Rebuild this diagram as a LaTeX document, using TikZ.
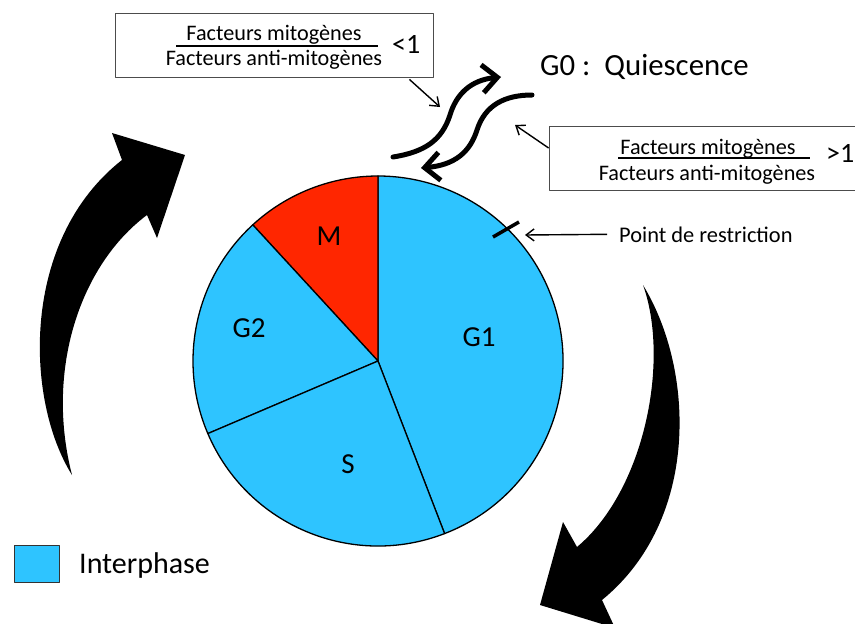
\documentclass[tikz,border=0pt]{standalone}
\usepackage{fontspec}
\setmainfont{Carlito}
\usetikzlibrary{arrows.meta}
\definecolor{phaseblue}{RGB}{46,196,255}
\definecolor{phasered}{RGB}{255,38,0}

% one pie slice: start angle, end angle, fill colour
\newcommand\pieslice[3]{\filldraw[slice, fill=#3] (c) -- ++(-#1:185) arc[start angle=-#1, end angle=-#2, radius=185] -- cycle;}

\begin{document}
\begin{tikzpicture}[x=1pt, y=-1pt, line join=round,
  every node/.style={inner sep=0pt},
  slice/.style={draw=black, line width=1.3pt},
  phase/.style={font=\fontsize{29}{32}\selectfont},
  ratiobox/.style={draw=black!70, line width=0.8pt, minimum width=318pt, minimum height=64pt},
  fracpart/.style={font=\fontsize{22.2}{24}\selectfont, anchor=base},
  ratio/.style={font=\fontsize{28}{30}\selectfont, anchor=base west},
  pointer/.style={-{Straight Barb[length=8pt,width=12pt]}, line width=1.4pt},
  switch/.style={-{Straight Barb[length=15pt,width=28pt]}, line width=5pt, line cap=round}
]
  \useasboundingbox (0,0) rectangle (855,624);

  % the cycle
  \coordinate (c) at (378,361);
  \pieslice{-68.9}{90}{phaseblue}
  \pieslice{90}{132.6}{phasered}
  \pieslice{132.6}{203.1}{phaseblue}
  \pieslice{203.1}{291.1}{phaseblue}
  \node[phase] (m) at (329,236) {M};
  \node[phase] (g2) at (249,328) {G2};
  \node[phase] (g1) at (479,337) {G1};
  \node[phase] (s) at (348,464) {S};

  % restriction point
  \draw[line width=3.5pt] (493,237) -- (519,222);
  \coordinate (rptip) at (525,235);
  \node[font=\fontsize{22.4}{24}\selectfont, anchor=base west] (restr) at (619,242) {Point de restriction};
  \draw[pointer] ([xshift=-12pt]restr.west) -- (rptip);

  % G0
  \node[font=\fontsize{30.8}{32}\selectfont, anchor=base west] (g0) at (540,75) {G0 :\ \ Quiescence};
  \coordinate (exitin) at (393,157);
  \coordinate (exitout) at (501,77);
  \coordinate (backin) at (532,95);
  \coordinate (backout) at (421,168);
  \draw[switch] (exitin) .. controls (425,152) and (442,140) .. (450,115)
    .. controls (456,95) and (470,80) .. (exitout);
  \draw[switch] (backin) .. controls (505,95) and (485,105) .. (477,130)
    .. controls (470,152) and (455,165) .. (backout);

  % ratio < 1
  \node[ratiobox] (lowbox) at (274,45) {};
  \node[fracpart] (lownum) at (274,40) {Facteurs mitogènes};
  \node[fracpart] (lowden) at (274,65) {Facteurs anti-mitogènes};
  \draw[line width=1.8pt] (176,46) -- (378,46);
  \node[ratio] (lowsign) at (392,53) {<1};
  \coordinate (lowtip) at (440,107);
  \draw[pointer] ([xshift=-24pt,yshift=-2pt]lowbox.south east) -- (lowtip);

  % ratio > 1
  \node[ratiobox] (highbox) at (708,158) {};
  \node[fracpart] (highnum) at (708,154) {Facteurs mitogènes};
  \node[fracpart] (highden) at (707,180) {Facteurs anti-mitogènes};
  \draw[line width=1.8pt] (618,158) -- (810,158);
  \node[ratio] (highsign) at (826,162) {>1};
  \coordinate (hightip) at (515,125);
  \draw[pointer] ([yshift=10pt]highbox.west) -- (hightip);

  % big arrows
  \fill (72,475) .. controls (25,400) and (20,240) .. (122,160) -- (112,133) -- (185,155)
    -- (157,238) -- (147,215) .. controls (80,265) and (45,370) .. (72,475) -- cycle;
  \fill (643,285) .. controls (695,370) and (700,520) .. (602,600) -- (615,628) -- (540,605)
    -- (563,522) -- (577,547) .. controls (645,490) and (670,360) .. (643,285) -- cycle;

  % legend
  \node[draw=black!80, line width=1pt, fill=phaseblue, minimum width=45pt, minimum height=37pt] (key) at (36.5,563.5) {};
  \node[font=\fontsize{30}{32}\selectfont, anchor=base west] (keytext) at (79,573) {Interphase};
\end{tikzpicture}
\end{document}
